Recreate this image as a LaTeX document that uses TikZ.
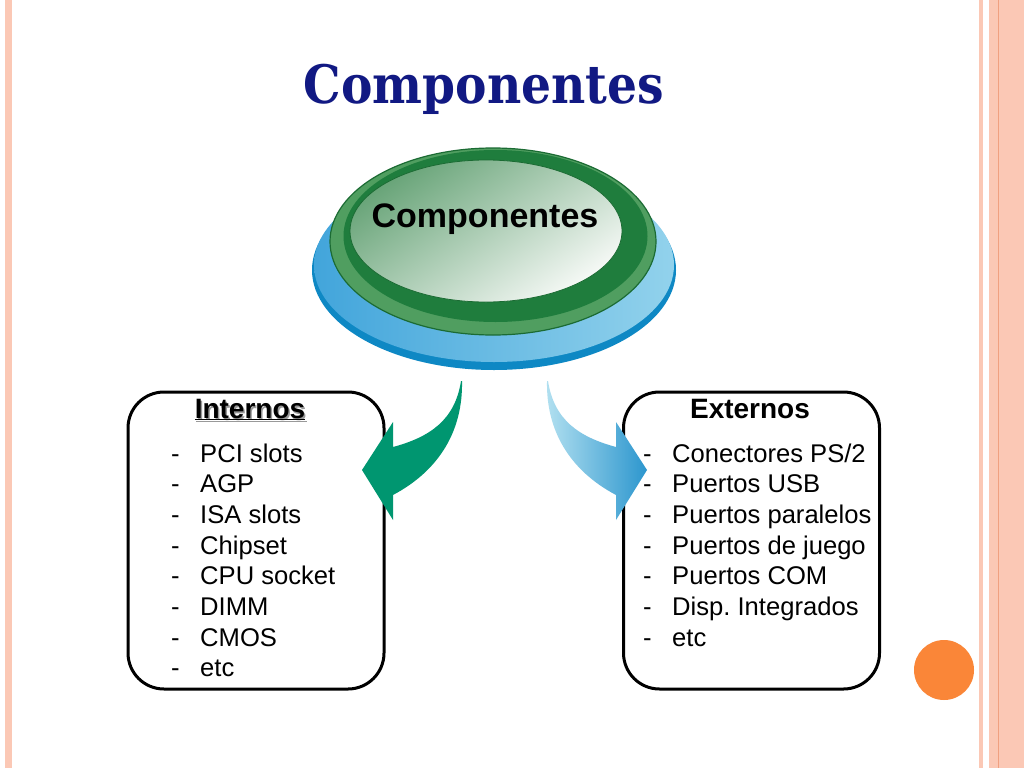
\documentclass[tikz,border=0pt]{standalone}
\usepackage{fontspec}
\setmainfont{Liberation Sans}
\newfontfamily\titlefont[FakeStretch=0.89]{DejaVu Serif}
\usetikzlibrary{positioning}

\definecolor{navy}{RGB}{17,25,131}
\definecolor{stripe}{RGB}{251,200,181}
\definecolor{stripedark}{RGB}{240,160,128}
\definecolor{dotorange}{RGB}{250,134,56}
\definecolor{arrowgreen}{RGB}{0,150,112}
\definecolor{arrowlight}{RGB}{178,224,240}
\definecolor{arrowblue}{RGB}{44,150,206}
\definecolor{baseblue}{RGB}{14,136,196}
\definecolor{baseleft}{RGB}{66,165,219}
\definecolor{baseright}{RGB}{146,210,236}
\definecolor{rimgreen}{RGB}{80,158,96}
\definecolor{edgegreen}{RGB}{27,107,51}
\definecolor{darkgreen}{RGB}{31,125,61}
\definecolor{capgreen}{RGB}{104,164,120}
\definecolor{capwhite}{RGB}{246,249,246}

\begin{document}
\begin{tikzpicture}[x=1pt,y=-1pt,
	item/.style={anchor=base west, inner sep=0pt, font=\fontsize{25.6}{30}\selectfont},
	head/.style={anchor=base, inner sep=0pt, font=\fontsize{28}{32}\selectfont\bfseries},
	listbox/.style={draw=black, line width=3pt, rounded corners=36pt, minimum width=256pt, minimum height=297pt, inner sep=0pt}]
	\fill[white] (0,0) rectangle (1024,768);
	\useasboundingbox (0,0) rectangle (1024,768);
	% page stripes
	\fill[stripe] (5,0) rectangle (12,768);
	\fill[stripe] (979,0) rectangle (983,768);
	\fill[stripe] (989,0) rectangle (1024,768);
	\draw[stripedark, line width=1pt] (998.5,0) -- (998.5,768);
	\fill[dotorange] (944,670) circle[radius=30pt];
	% title
	\node[anchor=base, inner sep=0pt, text=navy, font=\fontsize{53}{58}\selectfont\titlefont\bfseries] (title) at (484,103) {Componentes};
	% button
	\fill[baseblue] (494,270) ellipse[x radius=182pt, y radius=100pt];
	\shade[left color=baseleft, right color=baseright] (494,265) ellipse[x radius=180pt, y radius=97pt];
	\filldraw[fill=rimgreen, draw=edgegreen, line width=1.2pt] (493,241.5) ellipse[x radius=163pt, y radius=93.5pt];
	\fill[darkgreen] (495.5,236) ellipse[x radius=152pt, y radius=86pt];
	\shade[top color=capgreen, bottom color=capwhite, shading angle=35, draw=edgegreen, line width=0.8pt] (486,231) ellipse[x radius=136pt, y radius=71pt];
	\node[inner sep=0pt, font=\fontsize{34}{38}\selectfont\bfseries] (button) at (485,219) {Componentes};
	% list boxes
	\node[listbox] (intBox) at (256,540.5) {};
	\node[listbox] (extBox) at (751.5,540.5) {};
	\node[head, text=black!40] at (251.5,420) {\underline{Internos}};
	\node[head] (intHead) at (250,418) {\underline{Internos}};
	\node[head] (extHead) at (750,418) {Externos};
	% internal items
	\node[item] (i1d) at (171,462) {-}; \node[item] (i1) at (200,462) {PCI slots};
	\node[item] (i2d) at (171,492.7) {-}; \node[item] (i2) at (200,492.7) {AGP};
	\node[item] (i3d) at (171,523.4) {-}; \node[item] (i3) at (200,523.4) {ISA slots};
	\node[item] (i4d) at (171,554.1) {-}; \node[item] (i4) at (200,554.1) {Chipset};
	\node[item] (i5d) at (171,584.8) {-}; \node[item] (i5) at (200,584.8) {CPU socket};
	\node[item] (i6d) at (171,615.5) {-}; \node[item] (i6) at (200,615.5) {DIMM};
	\node[item] (i7d) at (171,646.2) {-}; \node[item] (i7) at (200,646.2) {CMOS};
	\node[item] (i8d) at (171,676.9) {-}; \node[item] (i8) at (200,676.9) {etc};
	% external items
	\node[item] (e1d) at (643,462) {-}; \node[item] (e1) at (672,462) {Conectores PS/2};
	\node[item] (e2d) at (643,492.7) {-}; \node[item] (e2) at (672,492.7) {Puertos USB};
	\node[item] (e3d) at (643,523.4) {-}; \node[item] (e3) at (672,523.4) {Puertos paralelos};
	\node[item] (e4d) at (643,554.1) {-}; \node[item] (e4) at (672,554.1) {Puertos de juego};
	\node[item] (e5d) at (643,584.8) {-}; \node[item] (e5) at (672,584.8) {Puertos COM};
	\node[item] (e6d) at (643,615.5) {-}; \node[item] (e6) at (672,615.5) {Disp.\ Integrados};
	\node[item] (e7d) at (643,646.2) {-}; \node[item] (e7) at (672,646.2) {etc};
	% curved arrows
	\fill[arrowgreen] (461,381) .. controls (455,420) and (430,437) .. (393,447) -- (393,422) -- (362,470) -- (393,520) -- (393,495) .. controls (440,470) and (463,430) .. (462,381) -- cycle;
	\shade[left color=arrowlight, right color=arrowblue] (548,381) .. controls (554,420) and (579,437) .. (616,447) -- (616,422) -- (647,470) -- (616,520) -- (616,495) .. controls (569,470) and (546,430) .. (547,381) -- cycle;
\end{tikzpicture}
\end{document}
